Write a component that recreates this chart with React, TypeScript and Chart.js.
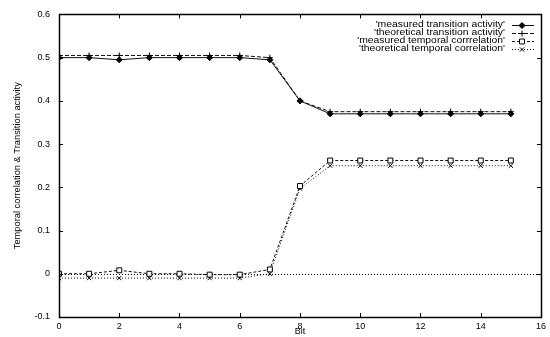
import React, { useEffect, useRef } from 'react';
import { Chart, registerables } from 'chart.js';
import { drawPoint } from 'chart.js/helpers';

Chart.register(...registerables);

const bits = [0, 1, 2, 3, 4, 5, 6, 7, 8, 9, 10, 11, 12, 13, 14, 15];
const measuredTransition = [0.5, 0.5, 0.495, 0.5, 0.5, 0.5, 0.5, 0.495, 0.4, 0.37, 0.37, 0.37, 0.37, 0.37, 0.37, 0.37];
const theoreticalTransition = [0.505, 0.505, 0.505, 0.505, 0.505, 0.505, 0.505, 0.5, 0.4, 0.375, 0.375, 0.375, 0.375, 0.375, 0.375, 0.375];
const measuredCorrelation = [0, 0, 0.008, 0, 0, -0.002, -0.002, 0.01, 0.203, 0.262, 0.262, 0.262, 0.262, 0.262, 0.262, 0.262];
const theoreticalCorrelation = [-0.01, -0.01, -0.01, -0.01, -0.01, -0.01, -0.01, 0, 0.197, 0.25, 0.25, 0.25, 0.25, 0.25, 0.25, 0.25];
const seriesLabels = [
  "'measured transition activity'",
  "'theoretical transition activity'",
  "'measured temporal corrrelation'",
  "'theoretical temporal correlation'",
];
const xTitle = 'Bit';
const yTitle = 'Temporal correlation & Transition activity';

const FONT = 'Liberation Sans, Arial, sans-serif';

const toPoints = (arr: number[]) => bits.map((b, i) => ({ x: b, y: arr[i] }));

const framePlugin = {
  id: 'frame',
  beforeDatasetsDraw(chart: any) {
    const { ctx, chartArea: a, scales } = chart;
    const y0 = scales.y.getPixelForValue(0);
    ctx.save();
    ctx.strokeStyle = '#000';
    ctx.lineWidth = 1;
    ctx.setLineDash([1, 2]);
    ctx.beginPath();
    ctx.moveTo(a.left, Math.round(y0) + 0.5);
    ctx.lineTo(a.right, Math.round(y0) + 0.5);
    ctx.stroke();
    ctx.restore();
  },
  afterDraw(chart: any) {
    const { ctx, chartArea: a, scales } = chart;
    ctx.save();
    ctx.strokeStyle = '#000';
    ctx.lineWidth = 1;
    ctx.setLineDash([]);
    const L = 4;
    scales.x.ticks.forEach((t: any) => {
      const px = Math.round(scales.x.getPixelForValue(t.value)) + 0.5;
      ctx.beginPath();
      ctx.moveTo(px, a.bottom);
      ctx.lineTo(px, a.bottom - L);
      ctx.moveTo(px, a.top);
      ctx.lineTo(px, a.top + L);
      ctx.stroke();
    });
    scales.y.ticks.forEach((t: any) => {
      const py = Math.round(scales.y.getPixelForValue(t.value)) + 0.5;
      ctx.beginPath();
      ctx.moveTo(a.left, py);
      ctx.lineTo(a.left + L, py);
      ctx.moveTo(a.right, py);
      ctx.lineTo(a.right - L, py);
      ctx.stroke();
    });
    ctx.lineWidth = 1.5;
    ctx.strokeRect(Math.round(a.left) + 0.5, Math.round(a.top) + 0.5, Math.round(a.right - a.left), Math.round(a.bottom - a.top));

    // legend
    chart.data.datasets.forEach((ds: any, i: number) => {
      const y = 25 + i * 8;
      ctx.save();
      ctx.font = `9px ${FONT}`;
      ctx.fillStyle = '#000';
      ctx.textAlign = 'right';
      ctx.textBaseline = 'middle';
      ctx.translate(505, y);
      ctx.scale(1.15, 1);
      ctx.fillText(ds.label, 0, 0);
      ctx.restore();
      ctx.save();
      ctx.strokeStyle = ds.borderColor;
      ctx.lineWidth = ds.borderWidth;
      ctx.setLineDash(ds.borderDash || []);
      ctx.beginPath();
      ctx.moveTo(512, Math.round(y) + 0.5);
      ctx.lineTo(534, Math.round(y) + 0.5);
      ctx.stroke();
      ctx.setLineDash([]);
      ctx.fillStyle = ds.pointBackgroundColor;
      ctx.strokeStyle = ds.pointBorderColor;
      ctx.lineWidth = ds.pointBorderWidth;
      drawPoint(ctx, { pointStyle: ds.pointStyle, radius: ds.pointRadius, rotation: 0, borderWidth: ds.pointBorderWidth }, 522, Math.round(y) + 0.5);
      ctx.restore();
    });
    ctx.restore();
  },
};

export default function App() {
  const ref = useRef<HTMLCanvasElement>(null);
  useEffect(() => {
    if (!ref.current) return;
    const common = {
      borderColor: '#111',
      borderWidth: 1,
      pointBorderColor: '#000',
      pointBorderWidth: 1,
      fill: false,
      tension: 0,
    };
    const chart = new Chart(ref.current, {
      type: 'line',
      data: {
        datasets: [
          { ...common, label: seriesLabels[0], data: toPoints(measuredTransition), pointStyle: 'rectRot', pointRadius: 3, pointBackgroundColor: '#000', borderDash: [] },
          { ...common, label: seriesLabels[1], data: toPoints(theoreticalTransition), pointStyle: 'cross', pointRadius: 3, pointBackgroundColor: '#000', borderDash: [4, 2] },
          { ...common, label: seriesLabels[2], data: toPoints(measuredCorrelation), pointStyle: 'rect', pointRadius: 3.5, pointBackgroundColor: '#fff', borderDash: [3, 2] },
          { ...common, label: seriesLabels[3], data: toPoints(theoreticalCorrelation), pointStyle: 'crossRot', pointRadius: 3, pointBackgroundColor: '#000', borderDash: [1, 2] },
        ] as any,
      },
      options: {
        responsive: false,
        animation: false,
        events: [],
        layout: { padding: { top: 11, right: 5, left: 0, bottom: 0 } },
        plugins: { legend: { display: false }, tooltip: { enabled: false } },
        scales: {
          x: {
            type: 'linear',
            min: 0,
            max: 16,
            grid: { display: false, drawTicks: false },
            border: { display: false },
            ticks: { stepSize: 2, padding: 4, color: '#000', font: { family: FONT, size: 9 }, maxRotation: 0 },
            title: { display: true, text: xTitle, color: '#000', font: { family: FONT, size: 9 }, padding: { top: 0, bottom: 0 } },
            afterFit: (s: any) => { s.height = 20; },
          },
          y: {
            type: 'linear',
            min: -0.1,
            max: 0.6,
            grid: { display: false, drawTicks: false },
            border: { display: false },
            ticks: { stepSize: 0.1, padding: 9, color: '#000', font: { family: FONT, size: 9 }, callback: (v: any) => String(Math.round(Number(v) * 10) / 10) },
            title: { display: true, text: yTitle, color: '#000', font: { family: FONT, size: 9.3 }, padding: { top: 11.5, bottom: 0 } },
            afterFit: (s: any) => { s.width = 59; },
          },
        },
      } as any,
      plugins: [framePlugin],
    });
    return () => chart.destroy();
  }, []);
  return (
    <div style={{ position: 'absolute', left: 0, top: 0, width: 550, height: 337, background: '#fff' }}>
      <canvas ref={ref} width={550} height={337} />
    </div>
  );
}
